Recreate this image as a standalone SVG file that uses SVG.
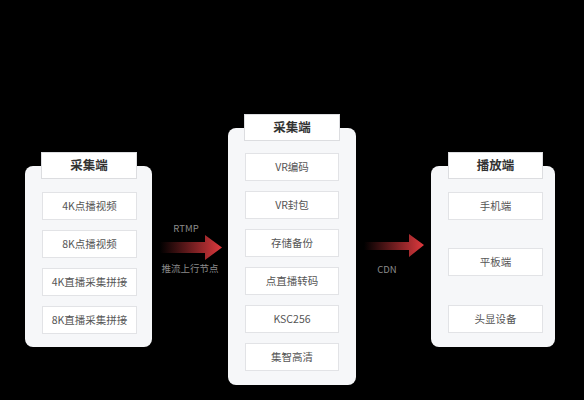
<svg xmlns="http://www.w3.org/2000/svg" width="584" height="400" viewBox="0 0 584 400">
<style>
.panel{fill:#f6f7f9;}
.hdr{fill:#ffffff;stroke:#dcdde0;stroke-width:1;}
.item{fill:#ffffff;stroke:#e2e3e6;stroke-width:1;}
.ht{font-family:"Noto Sans CJK SC","Noto Sans",sans-serif;font-size:12.5px;font-weight:bold;fill:#333;text-anchor:middle;}
.it{font-family:"Noto Sans CJK SC","Noto Sans",sans-serif;font-size:10.5px;fill:#555;text-anchor:middle;}
.lbl{font-family:"Noto Sans CJK SC","Noto Sans",sans-serif;font-size:9.5px;fill:#8a8a8a;text-anchor:middle;}
</style>
<defs>
<linearGradient id="ag" x1="0" y1="0" x2="1" y2="0">
<stop offset="0" stop-color="#d63a3e" stop-opacity="0"/>
<stop offset="1" stop-color="#e0393e" stop-opacity="1"/>
</linearGradient>
</defs>
<rect width="584" height="400" fill="#000"/>

<g id="left">
<rect class="panel" x="25" y="166" width="127" height="181" rx="8"/>
<rect class="hdr" x="41.5" y="152.5" width="95" height="26"/>
<text class="ht" x="89" y="170">采集端</text>
<rect class="item" x="42.5" y="192.5" width="94" height="27"/>
<text class="it" x="89.5" y="210">4K点播视频</text>
<rect class="item" x="42.5" y="230.5" width="94" height="27"/>
<text class="it" x="89.5" y="248">8K点播视频</text>
<rect class="item" x="42.5" y="268.5" width="94" height="27"/>
<text class="it" x="89.5" y="286">4K直播采集拼接</text>
<rect class="item" x="42.5" y="306.5" width="94" height="27"/>
<text class="it" x="89.5" y="324">8K直播采集拼接</text>
</g>

<g id="middle">
<rect class="panel" x="228" y="128" width="128" height="257" rx="8"/>
<rect class="hdr" x="244.5" y="114.5" width="95" height="26"/>
<text class="ht" x="292" y="132">采集端</text>
<rect class="item" x="245.5" y="153.5" width="93" height="27"/>
<text class="it" x="292" y="171">VR编码</text>
<rect class="item" x="245.5" y="191.5" width="93" height="27"/>
<text class="it" x="292" y="209">VR封包</text>
<rect class="item" x="245.5" y="229.5" width="93" height="27"/>
<text class="it" x="292" y="247">存储备份</text>
<rect class="item" x="245.5" y="267.5" width="93" height="27"/>
<text class="it" x="292" y="285">点直播转码</text>
<rect class="item" x="245.5" y="305.5" width="93" height="27"/>
<text class="it" x="292" y="323">KSC256</text>
<rect class="item" x="245.5" y="343.5" width="93" height="27"/>
<text class="it" x="292" y="361">集智高清</text>
</g>

<g id="right">
<rect class="panel" x="431" y="166" width="124" height="181" rx="8"/>
<rect class="hdr" x="448.5" y="152.5" width="94" height="26"/>
<text class="ht" x="495.5" y="170">播放端</text>
<rect class="item" x="448.5" y="192.5" width="94" height="27"/>
<text class="it" x="495.5" y="210">手机端</text>
<rect class="item" x="448.5" y="248.5" width="94" height="27"/>
<text class="it" x="495.5" y="266">平板端</text>
<rect class="item" x="448.5" y="305.5" width="94" height="27"/>
<text class="it" x="495.5" y="323">头显设备</text>
</g>

<g id="connectors">
<polygon fill="url(#ag)" points="160,242 205,242 205,235 222,247.5 205,260 205,253 160,253"/>
<text class="lbl" x="186" y="232">RTMP</text>
<text class="lbl" x="190" y="272">推流上行节点</text>
<polygon fill="url(#ag)" points="364,242 409,242 409,234 424,245 409,257 409,250 364,250"/>
<text class="lbl" x="387" y="273">CDN</text>
</g>
</svg>
